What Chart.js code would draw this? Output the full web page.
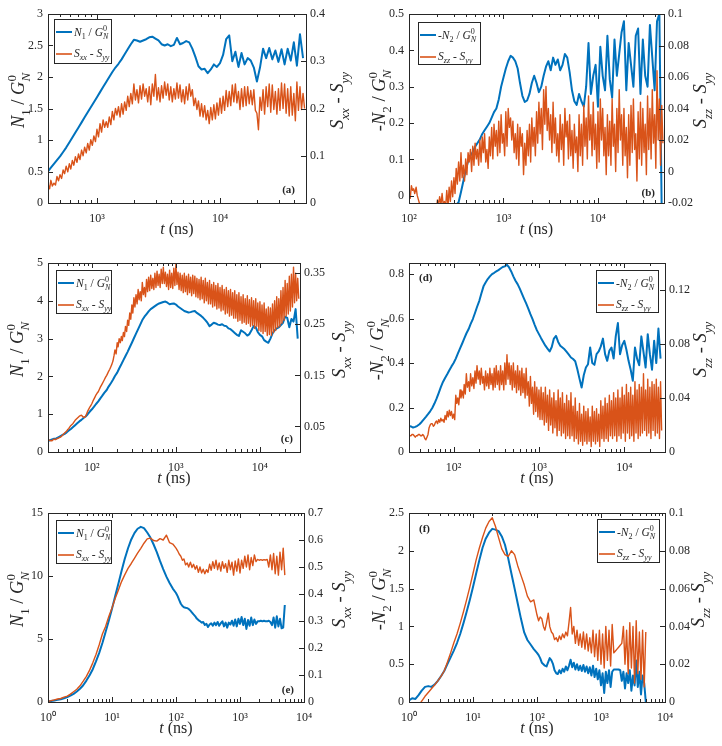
<!DOCTYPE html>
<html><head><meta charset="utf-8">
<script src="https://cdn.jsdelivr.net/npm/chart.js@4.4.0/dist/chart.umd.min.js"></script>
<style>
html,body{margin:0;padding:0;background:#fff;}
#wrap{position:relative;width:722px;height:746px;overflow:hidden;background:#fff;}
canvas{position:absolute;}
</style></head><body><div id="wrap"></div>
<script>
// ---------- time axes (ns) ----------
const tA = [400,422,447,473,501,531,562,596,631,668,708,750,794,841,891,944,
1000,1059,1122,1189,1259,1334,1413,1496,1585,1679,1778,1884,1995,2113,2239,2371,2512,2661,2818,2985,3162,3350,3548,3758,3981,4217,4467,4732,5012,5309,5623,5957,6310,6683,7079,7499,7943,8414,8913,9441,
10000,10593,11220,11885,12589,13335,14125,14962,15849,16788,17783,18836,19953,21135,22387,23714,25119,26607,28184,29854,31623,33497,35481,37584,39811,42170,44668,47315];
const tAf = [400,412,422,434,447,460,473,487,501,516,531,546,562,579,596,613,631,649,668,688,708,728,750,772,794,818,841,866,891,917,944,972,
1000,1029,1059,1090,1122,1155,1189,1223,1259,1296,1334,1372,1413,1454,1496,1540,1585,1631,1679,1728,1778,1830,1884,1939,1995,2054,2113,2175,2239,2304,2371,2441,2512,2585,2661,2738,2818,2901,2985,3073,3162,3255,3350,3447,3548,3652,3758,3868,3981,4097,4217,4340,4467,4597,4732,4870,5012,5158,5309,5464,5623,5788,5957,6131,6310,6494,6683,6879,7079,7286,7499,7718,7943,8175,8414,8660,8913,9173,9441,9716,
10000,10292,10593,10902,11220,11548,11885,12232,12589,12957,13335,13725,14125,14538,14962,15399,15849,16312,16788,17278,17783,18302,18836,19387,19953,20535,21135,21752,22387,23041,23714,24406,25119,25852,26607,27384,28184,29007,29854,30726,31623,32546,33497,34475,35481,36517,37584,38681,39811,40973,42170,43401,44668,45973,47315,48697];
const tB = [100,106,112,119,126,133,141,150,158,168,178,188,200,211,224,237,251,266,282,299,316,335,355,376,398,422,447,473,501,531,562,596,631,668,708,750,794,841,891,944,
1000,1059,1122,1189,1259,1334,1413,1496,1585,1679,1778,1884,1995,2113,2239,2371,2512,2661,2818,2985,3162,3350,3548,3758,3981,4217,4467,4732,5012,5309,5623,5957,6310,6683,7079,7499,7943,8414,8913,9441,
10000,10593,11220,11885,12589,13335,14125,14962,15849,16788,17783,18836,19953,21135,22387,23714,25119,26607,28184,29854,31623,33497,35481,37584,39811,42170,44668,47315];
const tBf = [100,103,106,109,112,115,119,122,126,130,133,137,141,145,150,154,158,163,168,173,178,183,188,194,200,205,211,218,224,230,237,244,251,259,266,274,282,290,299,307,316,325,335,345,355,365,376,387,398,410,422,434,447,460,473,487,501,516,531,546,562,579,596,613,631,649,668,688,708,728,750,772,794,818,841,866,891,917,944,972,
1000,1029,1059,1090,1122,1155,1189,1223,1259,1296,1334,1372,1413,1454,1496,1540,1585,1631,1679,1728,1778,1830,1884,1939,1995,2054,2113,2175,2239,2304,2371,2441,2512,2585,2661,2738,2818,2901,2985,3073,3162,3255,3350,3447,3548,3652,3758,3868,3981,4097,4217,4340,4467,4597,4732,4870,5012,5158,5309,5464,5623,5788,5957,6131,6310,6494,6683,6879,7079,7286,7499,7718,7943,8175,8414,8660,8913,9173,9441,9716,
10000,10292,10593,10902,11220,11548,11885,12232,12589,12957,13335,13725,14125,14538,14962,15399,15849,16312,16788,17278,17783,18302,18836,19387,19953,20535,21135,21752,22387,23041,23714,24406,25119,25852,26607,27384,28184,29007,29854,30726,31623,32546,33497,34475,35481,36517,37584,38681,39811,40973,42170,43401,44668,45973,47315,48697];
const tCD = [29.9,31.6,33.5,35.5,37.6,39.8,42.2,44.7,47.3,50.1,53.1,56.2,59.6,63.1,66.8,70.8,75.0,79.4,84.1,89.1,94.4,
100,106,112,119,126,133,141,150,158,168,178,188,200,211,224,237,251,266,282,299,316,335,355,376,398,422,447,473,501,531,562,596,631,668,708,750,794,841,891,944,
1000,1059,1122,1189,1259,1334,1413,1496,1585,1679,1778,1884,1995,2113,2239,2371,2512,2661,2818,2985,3162,3350,3548,3758,3981,4217,4467,4732,5012,5309,5623,5957,6310,6683,7079,7499,7943,8414,8913,9441,
10000,10593,11220,11885,12589,13335,14125,14962,15849,16788,17783,18836,19953,21135,22387,23714,25119,26607,28184];
const tCDf = [29.9,30.7,31.6,32.5,33.5,34.5,35.5,36.5,37.6,38.7,39.8,41.0,42.2,43.4,44.7,46.0,47.3,48.7,50.1,51.6,53.1,54.6,56.2,57.9,59.6,61.3,63.1,64.9,66.8,68.8,70.8,72.9,75.0,77.2,79.4,81.8,84.1,86.6,89.1,91.7,94.4,97.2,
100,103,106,109,112,115,119,122,126,130,133,137,141,145,150,154,158,163,168,173,178,183,188,194,200,205,211,218,224,230,237,244,251,259,266,274,282,290,299,307,316,325,335,345,355,365,376,387,398,410,422,434,447,460,473,487,501,516,531,546,562,579,596,613,631,649,668,688,708,728,750,772,794,818,841,866,891,917,944,972,
1000,1029,1059,1090,1122,1155,1189,1223,1259,1296,1334,1372,1413,1454,1496,1540,1585,1631,1679,1728,1778,1830,1884,1939,1995,2054,2113,2175,2239,2304,2371,2441,2512,2585,2661,2738,2818,2901,2985,3073,3162,3255,3350,3447,3548,3652,3758,3868,3981,4097,4217,4340,4467,4597,4732,4870,5012,5158,5309,5464,5623,5788,5957,6131,6310,6494,6683,6879,7079,7286,7499,7718,7943,8175,8414,8660,8913,9173,9441,9716,
10000,10292,10593,10902,11220,11548,11885,12232,12589,12957,13335,13725,14125,14538,14962,15399,15849,16312,16788,17278,17783,18302,18836,19387,19953,20535,21135,21752,22387,23041,23714,24406,25119,25852,26607,27384,28184,29007];
const tEF = [1,1.12,1.26,1.41,1.58,1.78,2.00,2.24,2.51,2.82,3.16,3.55,3.98,4.47,5.01,5.62,6.31,7.08,7.94,8.91,
10,11.2,12.6,14.1,15.8,17.8,20.0,22.4,25.1,28.2,31.6,35.5,39.8,44.7,50.1,56.2,63.1,70.8,79.4,89.1,
100,106,112,119,126,133,141,150,158,168,178,188,200,211,224,237,251,266,282,299,316,335,355,376,398,422,447,473,501,531,562,596,631,668,708,750,794,841,891,944,
1000,1059,1122,1189,1259,1334,1413,1496,1585,1679,1778,1884,1995,2113,2239,2371,2512,2661,2818,2985,3162,3350,3548,3758,3981,4217,4467,4732,5012];

// ---------- panel (a) ----------
const aN1 = [0.50,0.56,0.62,0.68,0.74,0.81,0.88,0.96,1.04,1.12,1.20,1.28,1.36,1.44,1.52,1.60,
1.68,1.76,1.84,1.92,2.00,2.08,2.15,2.21,2.28,2.36,2.44,2.52,2.59,2.58,2.56,2.58,
2.60,2.63,2.64,2.61,2.58,2.52,2.50,2.52,2.49,2.51,2.62,2.52,2.54,2.57,2.55,2.45,
2.32,2.17,2.12,2.13,2.06,2.12,2.20,2.16,2.22,2.35,2.60,2.66,2.25,2.40,2.16,2.38,
2.20,2.30,2.26,2.15,1.93,2.15,2.45,2.30,2.46,2.28,2.42,2.24,2.44,2.20,2.45,2.26,
2.55,2.18,2.68,2.30];
const aS = [0.040,0.030,0.048,0.036,0.042,0.038,0.056,0.047,0.060,0.052,0.070,0.062,0.078,0.066,0.083,0.072,
0.090,0.080,0.098,0.086,0.104,0.092,0.112,0.100,0.118,0.106,0.126,0.112,0.134,0.122,0.142,0.130,
0.156,0.140,0.168,0.150,0.176,0.160,0.172,0.160,0.182,0.166,0.194,0.176,0.200,0.186,0.204,0.182,
0.210,0.188,0.214,0.196,0.226,0.204,0.232,0.210,0.252,0.218,0.240,0.212,0.248,0.220,0.252,0.226,
0.242,0.214,0.246,0.208,0.252,0.226,0.272,0.218,0.244,0.214,0.248,0.222,0.256,0.228,0.252,0.218,
0.246,0.214,0.242,0.220,0.254,0.222,0.250,0.214,0.240,0.210,0.246,0.218,0.252,0.226,0.240,0.206,
0.222,0.198,0.216,0.184,0.210,0.182,0.206,0.176,0.196,0.168,0.202,0.176,0.208,0.178,0.212,0.186,
0.222,0.190,0.226,0.196,0.238,0.204,0.236,0.206,0.250,0.214,0.252,0.212,0.236,0.198,0.242,0.204,
0.246,0.206,0.246,0.210,0.238,0.208,0.240,0.196,0.190,0.155,0.224,0.196,0.240,0.188,0.246,0.204,
0.252,0.192,0.250,0.198,0.236,0.188,0.242,0.196,0.254,0.200,0.252,0.190,0.242,0.184,0.246,0.186,
0.232,0.174,0.256,0.196,0.246,0.198,0.232,0.200];
// ---------- panel (b) ----------
const bN2 = [null,null,null,null,null,null,null,null,null,null,null,null,null,null,null,null,null,null,
-0.045,-0.035,-0.025,-0.018,0.01,0.04,
0.07,0.095,0.11,0.12,0.135,0.145,0.155,0.17,
0.18,0.19,0.20,0.215,0.23,0.24,0.265,0.30,0.325,0.35,0.37,0.385,0.38,0.37,0.35,0.31,
0.275,0.258,0.262,0.28,0.31,0.33,0.31,0.285,0.30,0.33,0.355,0.37,0.345,0.38,0.36,0.375,
0.345,0.36,0.39,0.38,0.34,0.29,0.26,0.25,0.28,0.26,0.245,0.30,0.42,0.28,0.33,0.36,
0.245,0.41,0.33,0.29,0.44,0.32,0.27,0.43,0.33,0.39,0.45,0.48,0.29,0.42,0.36,0.30,
0.44,0.46,0.28,0.43,0.33,0.30,0.47,0.38,0.29,0.48,0.50,-0.05];
const bS = [-0.014,-0.017,-0.009,-0.012,-0.011,-0.014,-0.010,-0.015,-0.018,-0.021,-0.022,-0.024,-0.023,-0.025,-0.024,-0.026,
-0.023,-0.025,-0.022,-0.026,-0.021,-0.024,-0.023,-0.026,-0.018,-0.022,-0.016,-0.021,-0.014,-0.021,-0.019,-0.023,
-0.012,-0.022,-0.010,-0.019,-0.006,-0.016,-0.004,-0.014,0.002,-0.008,0.006,-0.006,0.012,-0.004,0.004,-0.006,
0.008,-0.002,0.012,0.006,0.014,0.000,0.016,0.004,0.018,0.008,0.014,0.004,0.020,0.006,0.022,0.012,
0.024,0.006,0.014,0.002,0.022,0.010,0.028,0.008,0.030,0.016,0.026,0.010,0.032,0.012,0.036,0.018,
0.024,0.010,0.038,0.016,0.040,0.028,0.034,0.020,0.032,0.012,0.024,0.008,0.030,0.004,0.028,0.016,
0.024,-0.002,0.018,0.004,0.026,0.010,0.030,0.006,0.034,0.016,0.028,0.010,0.038,0.018,0.044,0.024,
0.040,0.014,0.052,0.030,0.054,0.026,0.040,0.020,0.036,0.012,0.044,0.018,0.034,0.010,0.024,0.006,
0.036,0.014,0.030,0.004,0.040,0.022,0.032,0.008,0.036,0.010,0.026,0.002,0.030,0.012,0.022,0.000,
0.036,0.010,0.030,0.004,0.042,0.016,0.034,0.008,0.048,0.020,0.036,0.010,0.044,0.014,0.030,0.002,
0.038,0.006,0.046,0.020,0.040,0.010,0.028,-0.002,0.036,0.010,0.032,0.004,0.046,0.016,0.030,0.000,
0.040,0.012,0.052,0.020,0.036,0.004,0.040,0.010,0.028,-0.004,0.036,0.004,0.042,0.012,0.046,0.014,
0.024,-0.006,0.038,0.008,0.044,0.004,0.040,0.012,0.030,-0.002,0.048,0.014,0.040,0.008,0.052,0.018,
0.036,0.002,0.064,0.020,0.046,0.004,0.042,0.018];
// ---------- panel (c) ----------
const cN1 = [0.29,0.31,0.33,0.35,0.36,0.39,0.42,0.45,0.48,0.52,0.57,0.61,0.66,0.71,0.76,0.81,
0.85,0.90,0.94,1.00,1.07,1.13,1.20,1.27,1.34,1.42,1.49,1.57,1.64,1.73,1.82,1.91,
2.01,2.10,2.21,2.32,2.43,2.54,2.65,2.77,2.89,3.01,3.13,3.25,3.37,3.49,3.58,3.65,
3.72,3.78,3.82,3.86,3.90,3.93,3.95,3.97,3.98,3.95,3.91,3.92,3.93,3.90,3.85,3.81,
3.77,3.73,3.71,3.69,3.70,3.72,3.73,3.68,3.64,3.60,3.55,3.49,3.42,3.33,3.37,3.42,
3.40,3.37,3.36,3.38,3.34,3.33,3.27,3.25,3.20,3.15,3.10,3.07,3.22,3.18,3.14,3.08,
3.12,3.22,3.33,3.30,3.17,3.10,3.06,2.96,2.92,2.89,3.00,3.14,3.22,3.27,3.30,3.36,
3.42,3.58,3.55,3.30,3.52,3.45,3.78,3.00];
const cS = [0.021,0.023,0.023,0.022,0.022,0.024,0.025,0.024,0.025,0.026,0.027,0.028,0.029,0.031,0.033,0.035,
0.037,0.039,0.041,0.044,0.046,0.049,0.052,0.054,0.056,0.059,0.062,0.064,0.066,0.068,0.070,0.071,
0.072,0.070,0.068,0.068,0.070,0.075,0.080,0.084,0.088,0.091,0.095,0.100,0.104,0.108,0.112,0.115,
0.118,0.122,0.127,0.131,0.134,0.138,0.142,0.146,0.150,0.154,0.158,0.162,0.167,0.172,0.178,0.188,
0.200,0.192,0.214,0.206,0.222,0.214,0.226,0.218,0.234,0.226,0.246,0.236,0.258,0.248,0.272,0.260,
0.288,0.272,0.302,0.284,0.308,0.290,0.318,0.298,0.314,0.296,0.332,0.308,0.322,0.304,0.338,0.314,
0.342,0.316,0.346,0.320,0.340,0.318,0.350,0.322,0.354,0.326,0.348,0.322,0.358,0.330,0.362,0.330,
0.352,0.324,0.348,0.318,0.356,0.322,0.350,0.320,0.360,0.326,0.368,0.328,0.352,0.318,0.350,0.316,
0.346,0.312,0.350,0.314,0.344,0.308,0.348,0.312,0.342,0.306,0.346,0.310,0.344,0.304,0.340,0.302,
0.338,0.298,0.342,0.300,0.336,0.292,0.340,0.296,0.332,0.290,0.336,0.290,0.328,0.284,0.332,0.286,
0.326,0.280,0.330,0.282,0.322,0.276,0.326,0.278,0.318,0.270,0.322,0.272,0.316,0.266,0.318,0.268,
0.312,0.262,0.316,0.262,0.308,0.256,0.312,0.258,0.304,0.252,0.308,0.254,0.300,0.250,0.306,0.252,
0.298,0.246,0.302,0.248,0.296,0.242,0.300,0.246,0.292,0.238,0.294,0.236,0.288,0.232,0.292,0.236,
0.280,0.228,0.284,0.230,0.282,0.228,0.290,0.234,0.296,0.238,0.304,0.244,0.300,0.246,0.316,0.252,
0.322,0.258,0.336,0.266,0.330,0.270,0.344,0.276,0.348,0.284,0.362,0.292,0.350,0.296,0.340,0.300];
// ---------- panel (d) ----------
const dN2 = [0.117,0.115,0.110,0.113,0.118,0.125,0.135,0.147,0.158,0.170,0.183,0.198,0.218,0.240,0.265,0.292,
0.315,0.333,0.350,0.368,0.385,0.400,0.420,0.442,0.466,0.488,0.510,0.533,0.553,0.575,0.598,0.625,
0.652,0.680,0.712,0.745,0.762,0.778,0.790,0.800,0.806,0.812,0.818,0.825,0.832,0.835,0.842,0.830,
0.812,0.790,0.770,0.755,0.735,0.712,0.690,0.668,0.645,0.620,0.598,0.572,0.548,0.530,0.512,0.495,
0.478,0.465,0.452,0.472,0.510,0.522,0.495,0.478,0.470,0.462,0.450,0.438,0.425,0.418,0.408,0.372,
0.330,0.290,0.345,0.380,0.395,0.470,0.400,0.392,0.440,0.452,0.475,0.510,0.440,0.410,0.455,0.470,
0.420,0.520,0.580,0.440,0.480,0.500,0.460,0.410,0.370,0.320,0.470,0.420,0.390,0.520,0.450,0.380,
0.530,0.440,0.370,0.500,0.400,0.555,0.420,null];
const dS = [0.013,0.012,0.012,0.013,0.013,0.012,0.011,0.012,0.012,0.013,0.013,0.012,0.012,0.013,0.012,0.010,
0.009,0.011,0.013,0.018,0.020,0.021,0.021,0.019,0.020,0.022,0.023,0.021,0.024,0.022,0.025,0.023,
0.024,0.022,0.027,0.024,0.030,0.026,0.031,0.027,0.030,0.025,0.028,0.024,0.042,0.036,0.040,0.035,
0.046,0.040,0.045,0.040,0.050,0.043,0.058,0.048,0.052,0.045,0.058,0.049,0.055,0.047,0.060,0.051,
0.064,0.054,0.060,0.050,0.062,0.051,0.056,0.046,0.060,0.049,0.058,0.047,0.062,0.050,0.058,0.046,
0.062,0.048,0.064,0.050,0.060,0.046,0.064,0.050,0.060,0.046,0.066,0.050,0.072,0.054,0.066,0.050,
0.064,0.046,0.066,0.048,0.060,0.044,0.064,0.046,0.060,0.042,0.062,0.044,0.058,0.040,0.062,0.042,
0.052,0.034,0.056,0.036,0.048,0.028,0.052,0.030,0.048,0.026,0.046,0.024,0.048,0.024,0.044,0.020,
0.048,0.022,0.042,0.016,0.046,0.020,0.040,0.014,0.044,0.018,0.038,0.012,0.046,0.016,0.040,0.012,
0.044,0.014,0.036,0.010,0.042,0.012,0.038,0.010,0.044,0.012,0.034,0.008,0.040,0.010,0.030,0.006,
0.036,0.008,0.028,0.005,0.034,0.008,0.030,0.006,0.032,0.008,0.026,0.004,0.034,0.008,0.030,0.006,
0.032,0.008,0.028,0.004,0.038,0.010,0.034,0.008,0.040,0.010,0.036,0.008,0.042,0.012,0.038,0.010,
0.044,0.012,0.040,0.008,0.046,0.012,0.040,0.010,0.048,0.014,0.042,0.008,0.050,0.014,0.044,0.010,
0.048,0.012,0.042,0.008,0.052,0.014,0.046,0.010,0.050,0.012,0.048,0.014,0.058,0.016,0.046,0.012,
0.054,0.014,0.048,0.010,0.052,0.016,0.050,0.012,0.054,0.014,0.048,0.010,0.052,0.016,null,null];
// ---------- panel (e) ----------
const eN1 = [0.05,0.08,0.12,0.17,0.22,0.30,0.39,0.50,0.64,0.84,1.05,1.33,1.70,2.12,2.60,3.22,
3.90,4.68,5.55,6.45,7.40,8.40,9.40,10.40,11.35,12.20,12.90,13.40,13.75,13.90,13.80,13.45,
13.05,12.50,11.90,11.20,10.55,9.95,9.45,9.00,8.65,8.40,8.10,7.80,7.62,7.52,7.48,7.45,
7.38,7.25,7.10,6.95,6.80,6.62,6.50,6.42,6.30,6.35,6.12,6.20,5.95,6.15,6.25,6.05,
6.30,6.10,6.35,6.05,6.25,6.40,6.00,6.30,5.90,6.30,6.15,6.45,6.05,6.55,6.00,6.60,
6.20,6.75,6.10,6.60,5.80,6.50,6.05,6.70,6.10,6.55,6.20,6.40,6.40,6.45,6.40,6.45,
6.40,6.40,6.45,6.35,6.10,6.70,5.90,6.80,6.00,6.60,5.85,5.90,7.70];
const eS = [0.002,0.005,0.008,0.011,0.013,0.018,0.022,0.029,0.038,0.047,0.060,0.077,0.095,0.118,0.145,0.176,
0.212,0.252,0.280,0.317,0.348,0.383,0.415,0.446,0.471,0.495,0.513,0.532,0.551,0.569,0.588,0.604,
0.607,0.598,0.596,0.605,0.600,0.618,0.590,0.585,0.570,0.560,0.548,0.540,0.525,0.530,0.508,0.515,
0.500,0.518,0.498,0.510,0.492,0.505,0.480,0.500,0.478,0.492,0.475,0.490,0.480,0.510,0.488,0.520,
0.495,0.525,0.490,0.515,0.485,0.520,0.495,0.512,0.480,0.525,0.490,0.518,0.470,0.522,0.485,0.530,
0.478,0.525,0.495,0.540,0.500,0.545,0.490,0.535,0.505,0.545,0.520,0.528,0.525,0.527,0.525,0.527,
0.526,0.528,0.500,0.545,0.490,0.550,0.475,0.540,0.470,0.555,0.490,0.570,0.470];
// ---------- panel (f) ----------
const fN2 = [0.02,0.05,0.04,0.09,0.15,0.20,0.21,0.20,0.23,0.28,0.34,0.41,0.50,0.59,0.68,0.78,
0.90,1.04,1.19,1.35,1.52,1.70,1.88,2.04,2.16,2.24,2.29,2.28,2.26,2.19,2.08,1.90,
1.70,1.50,1.30,1.10,0.92,0.82,0.76,0.70,0.65,0.62,0.58,0.52,0.50,0.48,0.47,0.53,
0.58,0.55,0.50,0.42,0.38,0.37,0.42,0.38,0.44,0.40,0.47,0.42,0.48,0.56,0.46,0.52,
0.43,0.50,0.42,0.48,0.41,0.49,0.40,0.47,0.38,0.46,0.35,0.48,0.33,0.44,0.30,0.42,
0.22,0.38,0.12,0.40,0.25,0.42,0.20,0.40,0.43,0.43,0.43,0.43,0.42,0.28,0.40,0.18,
0.38,0.25,0.42,0.15,0.35,0.22,0.55,0.20,0.40,0.10,0.35,0.25,0.00];
const fS = [null,null,null,-0.002,0.0005,0.003,0.005,0.007,0.009,0.0112,0.0136,0.0164,0.021,0.026,0.0312,0.036,
0.0416,0.0476,0.054,0.0608,0.068,0.0752,0.0816,0.087,0.092,0.0955,0.0975,0.093,0.087,0.081,0.078,0.077,
0.080,0.078,0.072,0.067,0.062,0.056,0.053,0.054,0.046,0.043,0.045,0.044,0.040,0.038,0.042,0.047,
0.040,0.037,0.036,0.033,0.034,0.032,0.035,0.033,0.036,0.034,0.037,0.035,0.042,0.050,0.036,0.040,
0.031,0.038,0.030,0.036,0.029,0.037,0.028,0.036,0.027,0.034,0.026,0.038,0.024,0.036,0.022,0.038,
0.020,0.036,0.018,0.040,0.022,0.038,0.019,0.041,0.026,0.027,0.028,0.029,0.030,0.031,0.040,0.020,
0.038,0.015,0.042,0.018,0.040,0.010,0.043,0.015,0.037,0.012,0.038,0.008,0.037];

// ---------- tick values ----------
const xTicksA = [1000,10000];
const xTicksB = [100,1000,10000];
const xTicksCD = [100,1000,10000];
const xTicksEF = [1,10,100,1000,10000];
const aYL = [0,0.5,1,1.5,2,2.5,3],  aYR = [0,0.1,0.2,0.3,0.4];
const bYL = [0,0.1,0.2,0.3,0.4,0.5], bYR = [-0.02,0,0.02,0.04,0.06,0.08,0.1];
const cYL = [0,1,2,3,4,5],          cYR = [0.05,0.15,0.25,0.35];
const dYL = [0,0.2,0.4,0.6,0.8],    dYR = [0,0.04,0.08,0.12];
const eYL = [0,5,10,15],            eYR = [0,0.1,0.2,0.3,0.4,0.5,0.6,0.7];
const fYL = [0,0.5,1,1.5,2,2.5],    fYR = [0,0.02,0.04,0.06,0.08,0.1];

// ---------- labels ----------
const LBL_N1 = [{t:'N',i:1},{t:'1',k:'sub'},{t:' / '},{t:'G',i:1},{t:'N',i:1,k:'sub',over:'0'}];
const LBL_N2 = [{t:'-'},{t:'N',i:1},{t:'2',k:'sub'},{t:' / '},{t:'G',i:1},{t:'N',i:1,k:'sub',over:'0'}];
const LBL_SXX = [{t:'S',i:1},{t:'xx',i:1,k:'sub'},{t:' - '},{t:'S',i:1},{t:'yy',i:1,k:'sub'}];
const LBL_SZZ = [{t:'S',i:1},{t:'zz',i:1,k:'sub'},{t:' - '},{t:'S',i:1},{t:'yy',i:1,k:'sub'}];
const LBL_T = [{t:'t',i:1},{t:' (ns)'}];
const PANEL_TAGS = ['(a)','(b)','(c)','(d)','(e)','(f)'];

const BLUE='#0072BD', ORANGE='#D95319', INK='#262626';
const FONT='"Liberation Serif","Times New Roman",serif';
Chart.defaults.font.family = FONT;

const panels = [
 {box:{x:0,y:0,w:361,h:245}, area:{l:48,r:306,t:14,b:203}, t:tA, n:aN1, ts:tAf, s:aS, xMin:400, xMax:50000, xTicks:xTicksA,
  yL:{min:0,max:3,ticks:aYL}, yR:{min:0,max:0.4,ticks:aYR}, leg:{x:54,y:19,w:57,h:44}, nl:LBL_N1, sl:LBL_SXX,
  tag:0, tagPos:{x:295,y:193,a:'right'}, lt:24, rt:343},
 {box:{x:361,y:0,w:361,h:245}, area:{l:409,r:664,t:14,b:203}, t:tB, n:bN2, ts:tBf, s:bS, xMin:100, xMax:50000, xTicks:xTicksB,
  yL:{min:-0.02,max:0.5,ticks:bYL}, yR:{min:-0.02,max:0.1,ticks:bYR}, leg:{x:418,y:22,w:62,h:42}, nl:LBL_N2, sl:LBL_SZZ,
  tag:1, tagPos:{x:655,y:196,a:'right'}, lt:385, rt:706},
 {box:{x:0,y:245,w:361,h:250}, area:{l:48,r:300,t:263,b:452}, t:tCD, n:cN1, ts:tCDf, s:cS, xMin:30, xMax:30000, xTicks:xTicksCD,
  yL:{min:0,max:5,ticks:cYL}, yR:{min:0,max:0.37,ticks:cYR}, leg:{x:56,y:270,w:55,h:43}, nl:LBL_N1, sl:LBL_SXX,
  tag:2, tagPos:{x:293,y:442,a:'right'}, lt:23, rt:345},
 {box:{x:361,y:245,w:361,h:250}, area:{l:409,r:665,t:263,b:452}, t:tCD, n:dN2, ts:tCDf, s:dS, xMin:30, xMax:30000, xTicks:xTicksCD,
  yL:{min:0,max:0.85,ticks:dYL}, yR:{min:0,max:0.14,ticks:dYR}, leg:{x:596,y:270,w:62,h:42}, nl:LBL_N2, sl:LBL_SZZ,
  tag:3, tagPos:{x:419,y:281,a:'left'}, lt:383, rt:706},
 {box:{x:0,y:495,w:361,h:251}, area:{l:48,r:304,t:513,b:702}, t:tEF, n:eN1, ts:tEF, s:eS, xMin:1, xMax:10000, xTicks:xTicksEF,
  yL:{min:0,max:15,ticks:eYL}, yR:{min:0,max:0.7,ticks:eYR}, leg:{x:56,y:520,w:55,h:43}, nl:LBL_N1, sl:LBL_SXX,
  tag:4, tagPos:{x:294,y:693,a:'right'}, lt:23, rt:345},
 {box:{x:361,y:495,w:361,h:251}, area:{l:409,r:665,t:513,b:702}, t:tEF, n:fN2, ts:tEF, s:fS, xMin:1, xMax:10000, xTicks:xTicksEF,
  yL:{min:0,max:2.5,ticks:fYL}, yR:{min:0,max:0.1,ticks:fYR}, leg:{x:597,y:519,w:62,h:43}, nl:LBL_N2, sl:LBL_SZZ,
  tag:5, tagPos:{x:419,y:532,a:'left'}, lt:385, rt:704}
];

function layoutRich(ctx, segs, size){
  const items=[]; let x=0; const ss=size*0.7;
  for(const s of segs){
    if(!s.k){
      ctx.font=(s.i?'italic ':'')+size+'px '+FONT;
      const w=ctx.measureText(s.t).width; items.push({t:s.t,f:ctx.font,x:x,dy:0}); x+=w;
    } else {
      ctx.font=(s.i?'italic ':'')+ss+'px '+FONT;
      const w=ctx.measureText(s.t).width; items.push({t:s.t,f:ctx.font,x:x,dy:size*0.3});
      let w2=0;
      if(s.over){ ctx.font=ss+'px '+FONT; w2=ctx.measureText(s.over).width; items.push({t:s.over,f:ctx.font,x:x,dy:-size*0.42}); }
      x+=Math.max(w,w2);
    }
  }
  return {items:items,width:x};
}
function drawRich(ctx, segs, size, x, y, align){
  const L=layoutRich(ctx,segs,size);
  const x0 = align==='center' ? x-L.width/2 : (align==='right' ? x-L.width : x);
  ctx.textBaseline='alphabetic'; ctx.textAlign='left';
  for(const it of L.items){ ctx.font=it.f; ctx.fillText(it.t, x0+it.x, y+it.dy); }
}
const SUP={'0':'\u2070','1':'\u00B9','2':'\u00B2','3':'\u00B3','4':'\u2074','5':'\u2075'};
function powLabel(v){ const e=Math.round(Math.log10(v)); return '10'+String(e).split('').map(c=>SUP[c]).join(''); }

function makeDeco(p){
  return {id:'deco', afterDraw(chart){
    const ctx=chart.ctx, ox=p.box.x, oy=p.box.y;
    const xs=chart.scales.x, yl=chart.scales.y, yr=chart.scales.y2;
    const ca=chart.chartArea, L=ca.left, R=ca.right, T=ca.top, B=ca.bottom;
    ctx.save();
    ctx.strokeStyle=INK; ctx.lineWidth=1;
    ctx.beginPath();
    const d0=Math.floor(Math.log10(p.xMin)), d1=Math.ceil(Math.log10(p.xMax));
    for(let d=d0; d<=d1; d++){
      for(let m=1;m<10;m++){
        const v=m*Math.pow(10,d);
        if(v<p.xMin*0.999||v>p.xMax*1.001) continue;
        const px=Math.round(xs.getPixelForValue(v))+0.5, len=(m===1)?5:3;
        ctx.moveTo(px,B); ctx.lineTo(px,B-len); ctx.moveTo(px,T); ctx.lineTo(px,T+len);
      }
    }
    for(const v of p.yL.ticks){ const py=Math.round(yl.getPixelForValue(v))+0.5; ctx.moveTo(L,py); ctx.lineTo(L+5,py); }
    for(const v of p.yR.ticks){ const py=Math.round(yr.getPixelForValue(v))+0.5; ctx.moveTo(R,py); ctx.lineTo(R-5,py); }
    ctx.stroke();
    ctx.strokeRect(L+0.5,T+0.5,R-L,B-T);
    // legend
    const g=p.leg, gx=g.x-ox, gy=g.y-oy;
    ctx.fillStyle='#fff'; ctx.fillRect(gx,gy,g.w,g.h);
    ctx.strokeStyle=INK; ctx.lineWidth=1; ctx.strokeRect(gx+0.5,gy+0.5,g.w,g.h);
    ctx.lineWidth=2; ctx.strokeStyle=BLUE; ctx.beginPath(); ctx.moveTo(gx+2,gy+13); ctx.lineTo(gx+18,gy+13); ctx.stroke();
    ctx.lineWidth=1.6; ctx.strokeStyle=ORANGE; ctx.beginPath(); ctx.moveTo(gx+2,gy+35); ctx.lineTo(gx+18,gy+35); ctx.stroke();
    ctx.fillStyle=INK;
    drawRich(ctx,p.nl,11.5,gx+20,gy+17,'left');
    drawRich(ctx,p.sl,11.5,gx+20,gy+38,'left');
    // panel tag
    ctx.font='bold 11px '+FONT; ctx.textAlign=p.tagPos.a; ctx.textBaseline='alphabetic';
    ctx.fillText(PANEL_TAGS[p.tag], p.tagPos.x-ox, p.tagPos.y-oy);
    // axis titles
    drawRich(ctx,LBL_T,16,(L+R)/2,B+31,'center');
    const cy=(T+B)/2-8;
    ctx.save(); ctx.translate(p.lt-ox,cy); ctx.rotate(-Math.PI/2); drawRich(ctx,p.nl,18.5,0,0,'center'); ctx.restore();
    ctx.save(); ctx.translate(p.rt-ox,cy); ctx.rotate(-Math.PI/2); drawRich(ctx,p.sl,18.5,0,0,'center'); ctx.restore();
    ctx.restore();
  }};
}

const wrap=document.getElementById('wrap');
panels.forEach(function(p){
  const cv=document.createElement('canvas');
  cv.width=p.box.w; cv.height=p.box.h;
  cv.style.left=p.box.x+'px'; cv.style.top=p.box.y+'px';
  cv.style.width=p.box.w+'px'; cv.style.height=p.box.h+'px';
  wrap.appendChild(cv);
  const tickFont={family:FONT,size:12};
  new Chart(cv,{
    type:'line',
    data:{datasets:[
      {label:'S', data:p.ts.map((t,i)=>({x:t,y:p.s[i]})), yAxisID:'y2', borderColor:ORANGE, borderWidth:1.4,
       pointRadius:0, tension:0, order:0, clip:0, borderJoinStyle:'round'},
      {label:'N', data:p.t.map((t,i)=>({x:t,y:p.n[i]})), yAxisID:'y', borderColor:BLUE, borderWidth:2,
       pointRadius:0, tension:0, order:1, clip:0, borderJoinStyle:'round'}
    ]},
    options:{
      responsive:false, animation:false, devicePixelRatio:1,
      layout:{padding:{top:p.area.t-p.box.y,left:0,right:0,bottom:0}},
      plugins:{legend:{display:false}, tooltip:{enabled:false}},
      scales:{
        x:{type:'logarithmic', position:'bottom', min:p.xMin, max:p.xMax,
           grid:{display:false,drawTicks:false}, border:{display:false},
           ticks:{autoSkip:false,maxRotation:0,minRotation:0,padding:9,font:tickFont,color:INK,callback:(v)=>powLabel(v)},
           afterBuildTicks:(s)=>{ s.ticks=p.xTicks.map(v=>({value:v})); },
           afterFit:(s)=>{ s.height=p.box.y+p.box.h-p.area.b; }},
        y:{type:'linear', position:'left', min:p.yL.min, max:p.yL.max,
           grid:{display:false,drawTicks:false}, border:{display:false},
           ticks:{padding:5,font:tickFont,color:INK,callback:(v)=>String(v)},
           afterBuildTicks:(s)=>{ s.ticks=p.yL.ticks.map(v=>({value:v})); },
           afterFit:(s)=>{ s.width=p.area.l-p.box.x; }},
        y2:{type:'linear', position:'right', min:p.yR.min, max:p.yR.max,
           grid:{display:false,drawTicks:false}, border:{display:false},
           ticks:{padding:4,font:tickFont,color:INK,callback:(v)=>String(v)},
           afterBuildTicks:(s)=>{ s.ticks=p.yR.ticks.map(v=>({value:v})); },
           afterFit:(s)=>{ s.width=p.box.x+p.box.w-p.area.r; }}
      }
    },
    plugins:[makeDeco(p)]
  });
});
</script></body></html>
